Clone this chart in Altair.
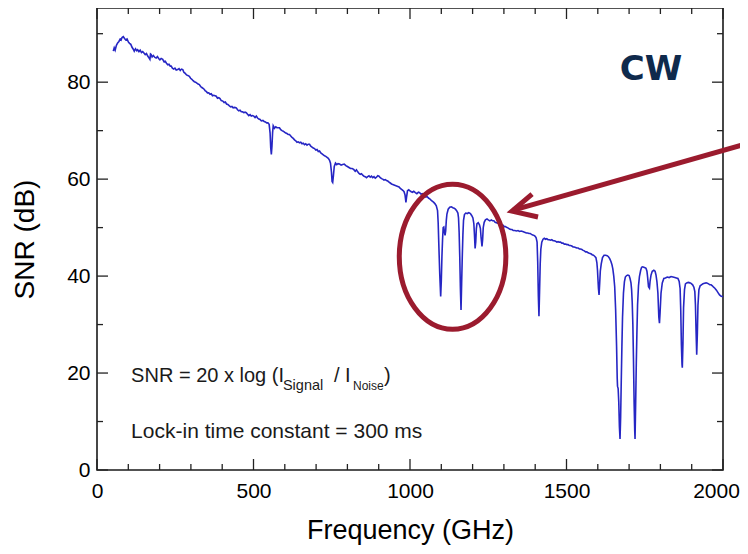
import altair as alt
import pandas as pd

# ---------------- data ----------------
freq = [52, 55, 58, 62, 66, 70, 74, 77, 80, 84, 88, 92, 96, 100, 104, 108, 112, 116, 119, 123,
        127, 130, 134, 138, 142, 146, 150, 154, 158, 162, 166, 169, 171, 173, 176, 180, 185, 189, 193, 197,
        201, 205, 210, 214, 218, 222, 226, 230, 234, 237, 241, 245, 249, 253, 258, 262, 266, 270, 274, 278,
        282, 286, 290, 295, 299, 303, 307, 311, 315, 319, 323, 327, 331, 335, 339, 343, 346, 349, 353, 357,
        361, 365, 369, 373, 377, 381, 385, 389, 393, 397, 402, 406, 410, 414, 418, 423, 427, 431, 435, 440,
        445, 449, 453, 457, 461, 465, 469, 473, 477, 481, 485, 489, 493, 497, 501, 505, 509, 513, 517, 521,
        525, 530, 534, 538, 542, 546, 550, 553, 555, 557, 559, 561, 563, 567, 571, 575, 579, 583, 587, 591,
        595, 599, 603, 607, 611, 615, 619, 623, 627, 631, 635, 639, 643, 647, 651, 655, 659, 663, 667, 671,
        675, 679, 683, 687, 691, 695, 699, 703, 707, 711, 715, 719, 723, 727, 731, 735, 739, 743, 746, 749,
        751, 753, 755, 758, 762, 766, 770, 775, 780, 785, 790, 795, 800, 805, 810, 815, 820, 825, 829, 833,
        837, 841, 845, 849, 853, 857, 861, 865, 869, 873, 877, 881, 885, 889, 893, 897, 901, 905, 909, 913,
        917, 921, 925, 929, 933, 937, 941, 945, 949, 953, 957, 961, 965, 969, 973, 977, 981, 984, 987, 989,
        992, 996, 1000, 1004, 1008, 1012, 1017, 1022, 1027, 1031, 1035, 1039, 1043, 1047, 1051, 1055, 1059, 1064, 1068, 1072,
        1076, 1080, 1084, 1088, 1090, 1092, 1095, 1098, 1100, 1102, 1104, 1106, 1108, 1110, 1112, 1114, 1116, 1118, 1122, 1127,
        1132, 1137, 1141, 1145, 1149, 1153, 1155, 1157, 1159, 1161, 1163, 1165, 1167, 1169, 1171, 1174, 1178, 1183, 1188, 1193,
        1197, 1201, 1204, 1206, 1208, 1210, 1212, 1214, 1218, 1222, 1225, 1227, 1230, 1232, 1234, 1237, 1241, 1246, 1250, 1255,
        1260, 1264, 1268, 1272, 1276, 1280, 1285, 1289, 1293, 1297, 1301, 1305, 1310, 1314, 1318, 1322, 1326, 1330, 1335, 1340,
        1345, 1350, 1355, 1360, 1364, 1368, 1372, 1376, 1380, 1384, 1388, 1392, 1396, 1400, 1403, 1406, 1408, 1410, 1412, 1414,
        1416, 1418, 1421, 1425, 1429, 1433, 1437, 1441, 1445, 1449, 1453, 1457, 1461, 1465, 1469, 1473, 1477, 1481, 1485, 1489,
        1493, 1497, 1501, 1505, 1509, 1513, 1517, 1521, 1525, 1529, 1533, 1537, 1541, 1545, 1549, 1553, 1557, 1561, 1565, 1569,
        1573, 1578, 1582, 1586, 1590, 1594, 1597, 1599, 1602, 1604, 1606, 1608, 1611, 1615, 1620, 1625, 1630, 1634, 1638, 1642,
        1645, 1648, 1651, 1654, 1657, 1660, 1662, 1663, 1665, 1667, 1669, 1671, 1673, 1675, 1677, 1679, 1682, 1685, 1688, 1692,
        1696, 1700, 1703, 1706, 1708, 1710, 1712, 1714, 1716, 1718, 1719, 1721, 1723, 1725, 1727, 1730, 1733, 1737, 1740, 1743,
        1747, 1751, 1754, 1757, 1759, 1762, 1765, 1767, 1770, 1774, 1779, 1783, 1786, 1789, 1792, 1795, 1797, 1799, 1802, 1806,
        1811, 1816, 1822, 1828, 1834, 1840, 1846, 1851, 1856, 1860, 1863, 1865, 1867, 1869, 1870, 1872, 1874, 1877, 1880, 1884,
        1889, 1894, 1898, 1903, 1907, 1910, 1912, 1914, 1916, 1918, 1920, 1923, 1927, 1931, 1936, 1941, 1946, 1950, 1954, 1958,
        1962, 1966, 1970, 1974, 1979, 1984, 1989, 1993, 1997, 2000]

snr = [86.4, 87.1, 86.6, 87.6, 88.1, 88.4, 88.9, 88.7, 89.2, 89.4, 89.0, 88.7, 88.9, 88.3, 88.0, 87.8, 87.2, 86.8, 86.4, 86.9,
       86.5, 86.7, 86.3, 86.6, 86.1, 86.3, 86.0, 85.7, 85.9, 85.4, 85.0, 84.7, 85.8, 85.7, 85.2, 85.5, 85.1, 85.0, 85.3, 84.9,
       84.6, 84.9, 84.7, 84.2, 84.3, 83.9, 83.6, 83.7, 83.3, 83.3, 82.9, 82.7, 82.9, 82.5, 82.6, 82.8, 82.4, 82.7, 82.6, 82.0,
       81.8, 81.5, 81.4, 81.2, 80.8, 80.6, 80.3, 80.1, 80.0, 79.8, 79.6, 79.5, 79.1, 78.9, 78.7, 78.5, 78.2, 78.1, 77.8, 77.8,
       77.5, 77.6, 77.2, 77.3, 77.2, 77.1, 76.7, 76.8, 76.6, 76.2, 76.1, 75.8, 75.9, 75.5, 75.4, 75.1, 74.9, 75.0, 74.7, 74.8,
       74.7, 74.3, 74.1, 74.2, 73.9, 73.9, 73.7, 73.8, 73.7, 73.4, 73.1, 73.3, 73.0, 73.1, 73.0, 72.7, 73.0, 72.6, 72.4, 72.3,
       72.0, 72.1, 71.9, 71.8, 71.6, 71.6, 71.3, 69.5, 66.5, 65.1, 66.8, 69.6, 71.0, 70.5, 70.8, 70.6, 70.6, 70.6, 70.2, 70.0,
       69.9, 69.7, 69.5, 69.4, 69.2, 69.2, 68.9, 68.6, 68.4, 68.1, 67.9, 67.6, 67.7, 67.5, 67.6, 67.3, 67.4, 67.1, 67.3, 67.0,
       67.2, 67.2, 66.8, 66.6, 66.4, 66.3, 66.0, 66.1, 65.7, 65.8, 65.4, 65.2, 65.0, 64.8, 64.7, 64.5, 64.3, 63.9, 63.3, 61.5,
       59.5, 59.3, 60.5, 62.6, 63.3, 63.0, 63.2, 63.1, 62.9, 63.0, 63.1, 62.8, 62.6, 62.4, 62.2, 62.2, 62.0, 61.6, 61.9, 61.5,
       61.2, 61.0, 61.1, 60.8, 60.6, 60.5, 60.3, 60.5, 60.7, 60.4, 60.6, 60.3, 60.5, 60.2, 60.4, 60.7, 60.6, 60.3, 60.1, 60.0,
       59.8, 59.9, 59.7, 59.6, 59.4, 59.2, 59.0, 58.9, 58.8, 58.7, 58.6, 58.5, 58.4, 58.1, 57.9, 57.7, 57.4, 56.8, 55.2, 56.3,
       57.6, 57.8, 57.6, 57.4, 57.3, 57.5, 57.2, 57.0, 57.3, 57.2, 56.9, 57.0, 56.9, 56.5, 56.3, 56.4, 56.1, 55.9, 55.6, 55.4,
       55.2, 54.9, 54.5, 53.5, 51.0, 46.7, 40.5, 35.8, 39.0, 44.0, 47.5, 50.0, 50.1, 49.0, 48.4, 49.3, 51.5, 52.8, 53.8, 54.2,
       54.3, 54.1, 54.0, 53.8, 53.5, 53.0, 52.0, 49.0, 44.0, 37.5, 33.0, 38.5, 44.0, 48.5, 51.5, 52.7, 53.0, 52.9, 53.1, 52.9,
       52.5, 52.0, 50.8, 48.5, 45.7, 47.0, 49.8, 50.8, 51.0, 50.6, 49.8, 48.0, 46.1, 47.5, 50.0, 51.1, 51.6, 51.8, 51.6, 51.4,
       51.6, 51.4, 51.4, 51.1, 51.0, 50.9, 50.9, 50.7, 50.4, 50.5, 50.2, 50.2, 50.0, 49.9, 49.7, 49.6, 49.6, 49.4, 49.4, 49.3,
       49.4, 49.2, 49.3, 49.2, 49.1, 49.0, 48.9, 48.9, 48.8, 48.8, 48.6, 48.5, 48.4, 48.2, 47.9, 47.0, 43.0, 36.0, 31.7, 37.0,
       42.5, 45.5, 47.0, 47.6, 47.8, 47.6, 47.7, 47.5, 47.5, 47.4, 47.5, 47.3, 47.3, 47.2, 47.0, 47.1, 47.0, 47.0, 46.8, 46.8,
       46.6, 46.6, 46.5, 46.5, 46.3, 46.3, 46.2, 46.0, 46.0, 45.9, 45.8, 45.8, 45.6, 45.6, 45.5, 45.3, 45.2, 45.0, 45.0, 44.8,
       44.7, 44.6, 44.4, 44.3, 44.1, 43.8, 42.8, 41.2, 37.5, 36.1, 38.5, 41.0, 42.5, 43.8, 44.3, 44.3, 44.2, 44.0, 43.6, 43.0,
       42.4, 41.5, 40.0, 37.8, 33.0, 25.5, 19.0, 17.3, 16.8, 14.0, 9.0, 6.4, 11.0, 18.5, 25.5, 31.5, 36.5, 38.8, 39.8, 40.1,
       40.2, 40.1, 39.5, 38.6, 37.2, 34.5, 30.0, 22.8, 14.0, 8.0, 6.4, 14.0, 22.0, 28.5, 34.0, 38.0, 39.9, 41.2, 41.8, 41.9,
       41.8, 41.7, 41.6, 41.0, 39.9, 37.8, 37.5, 38.9, 40.2, 41.0, 41.2, 41.0, 40.2, 38.8, 36.5, 31.5, 30.3, 32.5, 36.5, 38.6,
       39.5, 39.6, 39.8, 39.7, 39.9, 39.8, 39.7, 39.6, 39.5, 38.9, 37.4, 33.0, 26.0, 21.8, 21.1, 26.0, 33.5, 37.2, 38.4, 38.6,
       38.7, 38.6, 38.5, 38.2, 37.7, 36.8, 34.0, 28.5, 23.8, 28.0, 34.0, 37.2, 38.0, 38.2, 38.4, 38.5, 38.6, 38.5, 38.4, 38.2,
       38.2, 38.0, 37.7, 37.5, 37.1, 36.6, 36.1, 35.9, 35.8, 35.8]

x_major = [0, 500, 1000, 1500, 2000]
x_minor = [100, 200, 300, 400, 600, 700, 800, 900, 1100, 1200, 1300, 1400, 1600, 1700, 1800, 1900]
y_major = [0, 20, 40, 60, 80]
y_minor = [10, 30, 50, 70, 90]

# ---------------- layout / style ----------------
W, H = 626, 462
XDOM = [0, 2000]
YDOM = [0, 95.3]
FONT = "Liberation Sans"
LINE_BLUE = "#2626c4"
RED = "#9b1b2e"
NAVY = "#0f2a4c"
TICK = "#222222"

xs = alt.Scale(domain=XDOM, nice=False, zero=False)
ys = alt.Scale(domain=YDOM, nice=False, zero=False)

x_axis = alt.Axis(values=x_major, format="d", title="Frequency (GHz)", ticks=False, tickSize=0,
                  domain=False, grid=False, labelFontSize=21, labelPadding=10,
                  labelOffset=alt.condition("datum.value == 2000", alt.value(-7), alt.value(0)),
                  labelFont=FONT, labelColor="black", titleFont=FONT, titleFontSize=27,
                  titleFontWeight="normal", titleColor="black", titlePadding=16,
                  labelFlush=False)
y_axis = alt.Axis(values=y_major, format="d", title="SNR (dB)", ticks=False, tickSize=0,
                  domain=False, grid=False, labelFontSize=21, labelPadding=7,
                  labelFont=FONT, labelColor="black", titleFont=FONT, titleFontSize=28,
                  titleFontWeight="normal", titleColor="black", titlePadding=27,
                  labelFlush=False)


def X(field):
    return alt.X(field, scale=xs, axis=x_axis)


def Y(field):
    return alt.Y(field, scale=ys, axis=y_axis)


df = pd.DataFrame({"freq": freq, "snr": snr})

line = alt.Chart(df).mark_line(color=LINE_BLUE, strokeWidth=1.6, clip=True).encode(
    x=X("freq:Q"), y=Y("snr:Q"))


def xticks(values, length):
    d = pd.DataFrame({"v": values})
    b = alt.Chart(d).mark_rule(color=TICK, strokeWidth=1.3).encode(
        x=X("v:Q"), y=alt.value(H), y2=alt.value(H - length))
    t = alt.Chart(d).mark_rule(color=TICK, strokeWidth=1.3).encode(
        x=X("v:Q"), y=alt.value(0), y2=alt.value(length))
    return [b, t]


def yticks(values, length):
    d = pd.DataFrame({"v": values})
    l = alt.Chart(d).mark_rule(color=TICK, strokeWidth=1.3).encode(
        y=Y("v:Q"), x=alt.value(0), x2=alt.value(length))
    r = alt.Chart(d).mark_rule(color=TICK, strokeWidth=1.3).encode(
        y=Y("v:Q"), x=alt.value(W), x2=alt.value(W - length))
    return [l, r]


tick_layers = xticks(x_major, 11) + xticks(x_minor, 6) + yticks(y_major, 11) + yticks(y_minor, 6)

# annotation texts
formula_main = pd.DataFrame({"x": [109, 757, 917], "y": [18.1, 18.1, 18.1],
                             "t": ["SNR = 20 x log (I", "/ I", ")"]})
signal_sub = pd.DataFrame({"x": [594], "y": [16.6], "t": ["Signal"]})
noise_sub = pd.DataFrame({"x": [818], "y": [16.6], "t": ["Noise"]})
lockin = pd.DataFrame({"x": [109], "y": [6.6], "t": ["Lock-in time constant = 300 ms"]})

t_main = alt.Chart(formula_main).mark_text(font=FONT, fontSize=20, align="left",
                                           baseline="alphabetic", color="#1a1a1a").encode(
    x=X("x:Q"), y=Y("y:Q"), text="t:N")
t_sig = alt.Chart(signal_sub).mark_text(font=FONT, fontSize=14.5, align="left",
                                        baseline="alphabetic", color="#1a1a1a").encode(
    x=X("x:Q"), y=Y("y:Q"), text="t:N")
t_noi = alt.Chart(noise_sub).mark_text(font=FONT, fontSize=12, align="left",
                                       baseline="alphabetic", color="#1a1a1a").encode(
    x=X("x:Q"), y=Y("y:Q"), text="t:N")
t_lock = alt.Chart(lockin).mark_text(font=FONT, fontSize=21, align="left",
                                     baseline="alphabetic", color="#1a1a1a").encode(
    x=X("x:Q"), y=Y("y:Q"), text="t:N")

cw = alt.Chart(pd.DataFrame({"x": [1770], "y": [80.4], "t": ["CW"]})).mark_text(
    font="DejaVu Sans", fontSize=34, fontWeight="bold", align="center", baseline="alphabetic",
    color=NAVY).encode(x=X("x:Q"), y=Y("y:Q"), text="t:N")

# red ellipse and arrow
ellipse_path = "M -0.735 0 A 0.735 1 0 1 1 0.735 0 A 0.735 1 0 1 1 -0.735 0 Z"
ellipse = alt.Chart(pd.DataFrame({"x": [1136], "y": [44.0]})).mark_point(
    shape=ellipse_path, size=21025, filled=False, color=RED, strokeWidth=5, opacity=1,
    clip=False).encode(x=X("x:Q"), y=Y("y:Q"))

shaft = alt.Chart(pd.DataFrame({"x": [2118], "y": [68.1], "x2": [1330], "y2": [53.6]})).mark_rule(
    color=RED, strokeWidth=5, clip=False).encode(
    x=X("x:Q"), y=Y("y:Q"), x2="x2:Q", y2="y2:Q")

head = alt.Chart(pd.DataFrame({"x": [1390, 1326, 1409], "y": [56.9, 53.4, 52.2], "i": [0, 1, 2]})).mark_line(
    color=RED, strokeWidth=5, clip=False, strokeJoin="miter", strokeCap="butt").encode(
    x=X("x:Q"), y=Y("y:Q"), order="i:Q")

chart = alt.layer(line, *tick_layers, t_main, t_sig, t_noi, t_lock, cw, ellipse, shaft, head).properties(
    width=W, height=H,
    autosize=alt.AutoSizeParams(type="none"),
    padding={"left": 89, "top": 0, "right": 17, "bottom": 76},
    background="white",
).configure_view(stroke="#1a1a1a", strokeWidth=1.6)

chart.save("out.html", embed_options={"renderer": "svg", "actions": False})
